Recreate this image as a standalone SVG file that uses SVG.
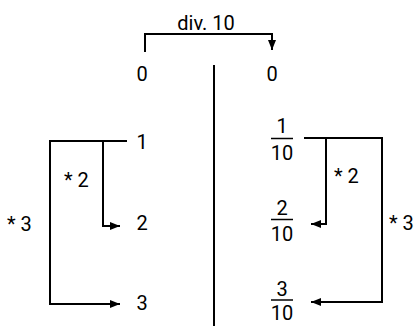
<svg xmlns="http://www.w3.org/2000/svg" width="414" height="329" viewBox="0 0 414 329">
  <style>
    .t { font-family: Roboto, "Liberation Sans", sans-serif; font-size: 20px; fill: #000; }
    .c { text-anchor: middle; }
    .ln { fill: none; stroke: #000; stroke-width: 2; }
    .bar { stroke: #000; stroke-width: 1.5; }
  </style>
  <defs>
    <marker id="arrow" markerUnits="userSpaceOnUse" markerWidth="10" markerHeight="8" refX="10" refY="4" orient="auto">
      <path d="M0,0 L10,4 L0,8 z" fill="#000"/>
    </marker>
  </defs>

  <!-- connectors -->
  <g id="connectors">
    <path class="ln" d="M145,52 V34 H272 V50" marker-end="url(#arrow)"/>
    <line class="ln" x1="214" y1="65" x2="214" y2="326"/>
    <path class="ln" d="M127,141 H50 V304 H120" marker-end="url(#arrow)"/>
    <path class="ln" d="M103,141 V226 H120" marker-end="url(#arrow)"/>
    <path class="ln" d="M304,138 H382 V302 H311" marker-end="url(#arrow)"/>
    <path class="ln" d="M326,138 V224 H311" marker-end="url(#arrow)"/>
  </g>

  <!-- connector labels -->
  <g id="labels">
    <text class="t c" x="206" y="30">div. 10</text>
    <text class="t" x="64" y="187">* 2</text>
    <text class="t" x="7" y="231">* 3</text>
    <text class="t" x="334" y="183">* 2</text>
    <text class="t" x="389" y="230">* 3</text>
  </g>

  <!-- left column: integers -->
  <g id="n0"><text class="t c" x="142" y="81">0</text></g>
  <g id="n1"><text class="t c" x="142" y="149">1</text></g>
  <g id="n2"><text class="t c" x="142" y="230">2</text></g>
  <g id="n3"><text class="t c" x="142" y="310">3</text></g>

  <!-- right column: tenths -->
  <g id="f0"><text class="t c" x="272" y="81">0</text></g>
  <g id="f1">
    <text class="t c" x="282" y="133">1</text>
    <line class="bar" x1="271" y1="138.5" x2="293" y2="138.5"/>
    <text class="t c" x="282" y="160">10</text>
  </g>
  <g id="f2">
    <text class="t c" x="282" y="215">2</text>
    <line class="bar" x1="271" y1="219.5" x2="293" y2="219.5"/>
    <text class="t c" x="282" y="240.5">10</text>
  </g>
  <g id="f3">
    <text class="t c" x="282" y="295.5">3</text>
    <line class="bar" x1="271" y1="300" x2="293" y2="300"/>
    <text class="t c" x="282" y="320">10</text>
  </g>
</svg>
